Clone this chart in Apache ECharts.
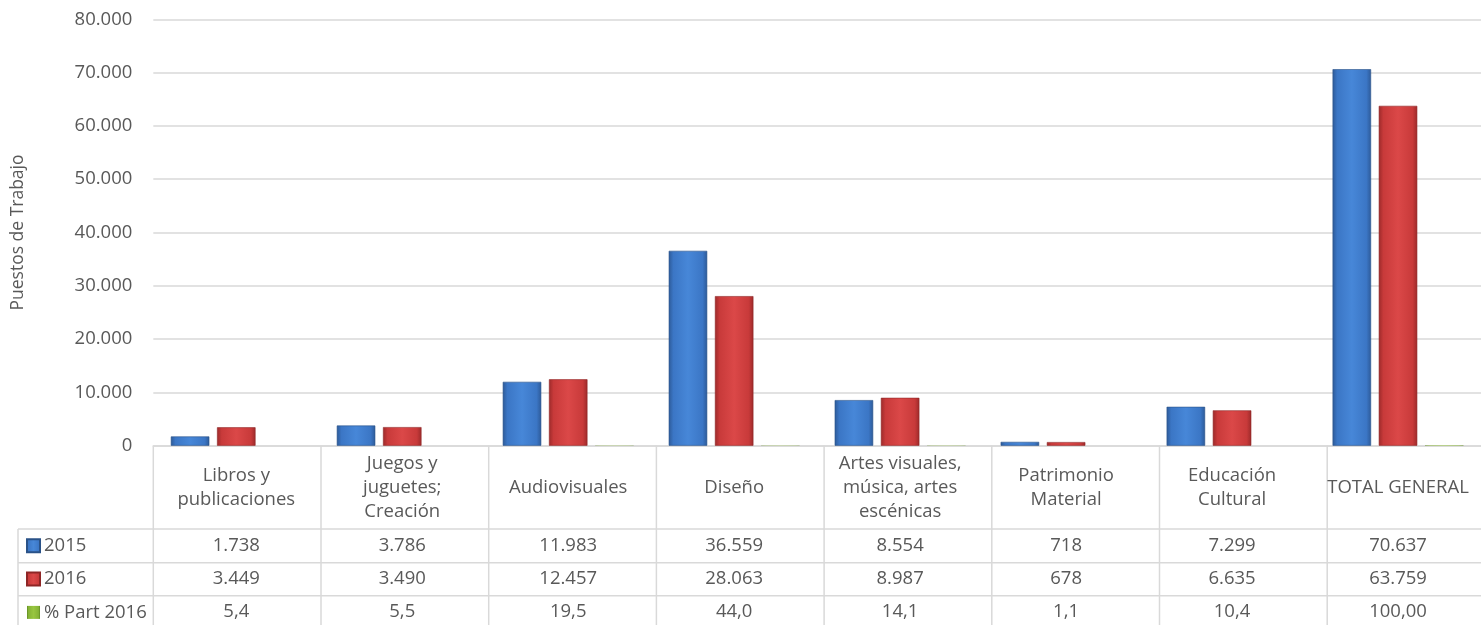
<!DOCTYPE html>
<html><head><meta charset="utf-8">
<script src="https://cdn.jsdelivr.net/npm/echarts@6/dist/echarts.min.js"></script>
<style>html,body{margin:0;padding:0;background:#fff}#c{width:1481px;height:625px}</style>
</head><body><div id="c"></div>
<script>
const categories = ['Libros y\npublicaciones','Juegos y\njuguetes;\nCreación','Audiovisuales','Diseño','Artes visuales,\nmúsica, artes\nescénicas','Patrimonio\nMaterial','Educación\nCultural','TOTAL GENERAL'];
const seriesNames = ['2015','2016','% Part 2016'];
const values2015 = [1738,3786,11983,36559,8554,718,7299,70637];
const values2016 = [3449,3490,12457,28063,8987,678,6635,63759];
const part2016 = [5.4,5.5,19.5,44.0,14.1,1.1,10.4,100.00];
const partDecimals = [1,1,1,1,1,1,1,2];
const yMin = 0, yMax = 80000, yStep = 10000;
const yAxisName = 'Puestos de Trabajo';

const FONT = 'Open Sans';
const TXT = '#595959';
const LINE = '#d9d9d9';
const FS = 18.5;

const GL = 153.3, GT = 19.3, CW = 167.7, AXY = 445.7;
const N = categories.length;
const ROWS = [529, 562.7, 595.7];

function thou(n){ return String(n).replace(/\B(?=(\d{3})+(?!\d))/g,'.'); }
function pct(v,i){ return v.toFixed(partDecimals[i]).replace('.',','); }

function grad(c0,c1,c2){
  return new echarts.graphic.LinearGradient(0,0,1,0,[
    {offset:0,color:c0},{offset:0.12,color:c1},{offset:0.5,color:c2},{offset:0.88,color:c1},{offset:1,color:c0}
  ]);
}
const colors = [
  grad('#2d5a98','#3b76c5','#4787d8'),
  grad('#9c2a2a','#c83a3a','#db4848'),
  grad('#5f8a22','#86b436','#98c640')
];
const borders = ['#2a5288','#8e2626','#55801e'];
const borderWidths = [0.6,0.6,0];

const chart = echarts.init(document.getElementById('c'));

const rowData = [
  values2015.map(v=>thou(v)),
  values2016.map(v=>thou(v)),
  part2016.map((v,i)=>pct(v,i))
];
const rowOffsets = [100, 133.3, 166.3];

const xAxes = [{
  type:'category', gridIndex:0, position:'bottom', data:categories,
  axisLine:{show:true, onZero:false, lineStyle:{color:LINE, width:1.5}},
  axisTick:{show:false},
  axisLabel:{interval:0, margin:42.5, verticalAlign:'middle', align:'center', color:TXT, fontFamily:FONT, fontSize:FS, lineHeight:24}
}];
rowData.forEach((row,r)=>{
  xAxes.push({
    type:'category', gridIndex:0, position:'bottom', data:categories, offset:0,
    axisLine:{show:false, onZero:false}, axisTick:{show:false},
    axisLabel:{interval:0, margin:rowOffsets[r], verticalAlign:'middle', align:'center', color:TXT, fontFamily:FONT, fontSize:FS,
      formatter:(v,i)=>row[i]}
  });
});

const graphics = [];
const lineStyle = {stroke:LINE, lineWidth:1.5};
for (let i=0;i<=N;i++){
  const x = GL + i*CW;
  graphics.push({type:'line', shape:{x1:x,y1:AXY,x2:x,y2:625}, style:lineStyle, silent:true});
}
graphics.push({type:'line', shape:{x1:18,y1:ROWS[0],x2:18,y2:625}, style:lineStyle, silent:true});
ROWS.forEach(y=>graphics.push({type:'line', shape:{x1:18,y1:y,x2:1481,y2:y}, style:lineStyle, silent:true}));

chart.setOption({
  animation:false,
  textStyle:{fontFamily:FONT},
  grid:{left:GL, top:GT, width:CW*N, bottom:625-AXY, containLabel:false},
  legend:{
    orient:'vertical', left:26, top:535.8, padding:0, height:120, icon:'rect', itemWidth:13, itemHeight:13, itemGap:13.3,
    data:seriesNames, selectedMode:false,
    textStyle:{color:TXT, fontFamily:FONT, fontSize:FS, lineHeight:20, padding:[0,0,0,-1]}
  },
  xAxis:xAxes,
  yAxis:{
    type:'value', min:yMin, max:yMax, interval:yStep,
    name:yAxisName, nameLocation:'middle', nameRotate:90, nameGap:126,
    nameTextStyle:{color:TXT, fontFamily:FONT, fontSize:17.5},
    axisLine:{show:false}, axisTick:{show:false},
    axisLabel:{color:TXT, fontFamily:FONT, fontSize:FS, margin:21, formatter:v=>thou(v)},
    splitLine:{lineStyle:{color:LINE, width:1.5}}
  },
  series:[values2015, values2016, part2016].map((d,k)=>({
    name:seriesNames[k], type:'bar', xAxisIndex:0, data:d, barWidth:38.5, barGap:'20%',
    itemStyle:{color:colors[k], borderColor:borders[k], borderWidth:borderWidths[k]}
  })),
  graphic:graphics
});
</script></body></html>
